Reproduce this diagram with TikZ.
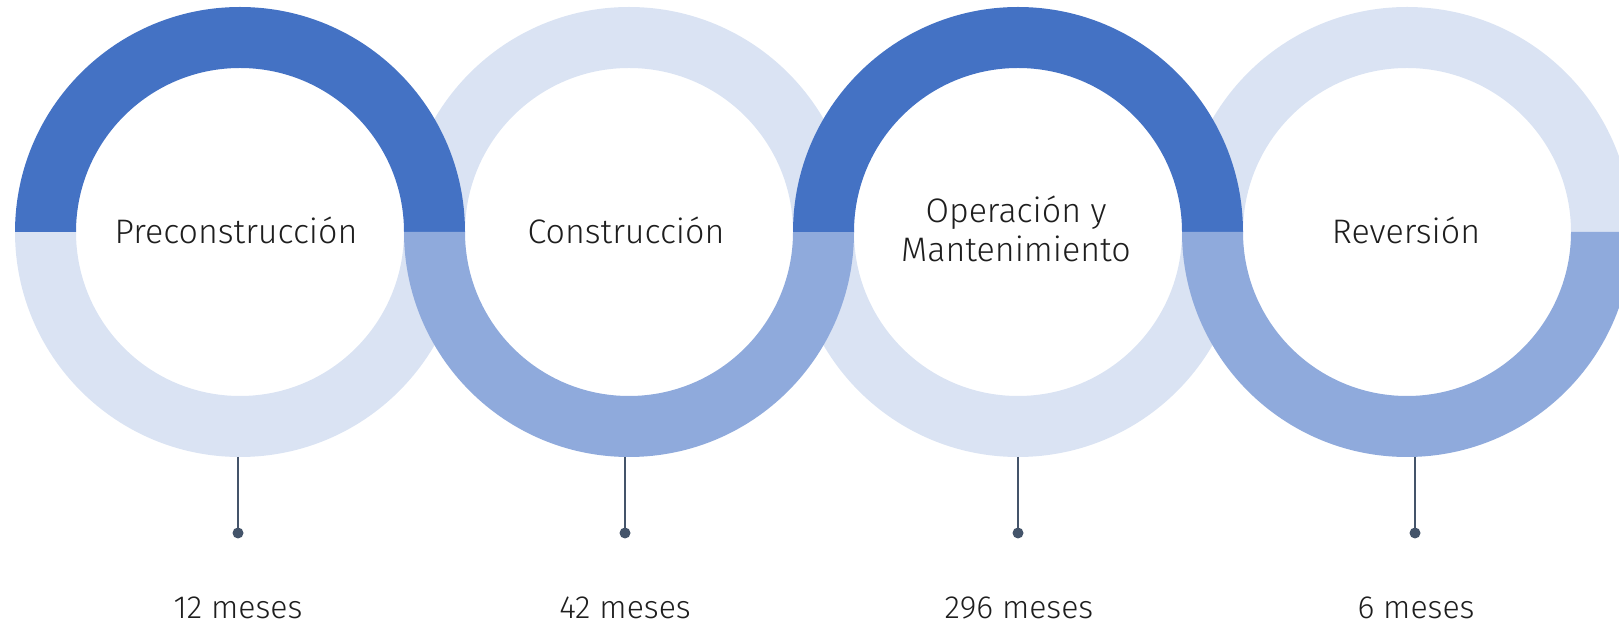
\documentclass[tikz,border=0pt]{standalone}
\usepackage{fontspec}
\setmainfont{Fira Sans}[UprightFont={* Light}]
\definecolor{cdark}{HTML}{4472C4}
\definecolor{cmed}{HTML}{8FAADC}
\definecolor{clight}{HTML}{DAE3F3}
\definecolor{cstem}{HTML}{44546A}
\definecolor{ctext}{HTML}{1E1E1E}
\begin{document}
\begin{tikzpicture}[x=1pt,y=1pt,
  phase/.style={text=ctext,font=\fontsize{34}{39}\selectfont,align=center,inner sep=0pt},
  months/.style={text=ctext,font=\fontsize{32}{36}\selectfont,anchor=base,inner sep=0pt},
  stemline/.style={draw=cstem,line width=2pt},
  stemdot/.style={circle,fill=cstem,minimum size=11pt,inner sep=0pt}]
\useasboundingbox (0,0) rectangle (1619,626);
\clip (0,0) rectangle (1619,626);
% top half ring: #1 = center x, #2 = colour
\newcommand\tophalf[2]{\fill[#2] (#1+225,394) arc[start angle=0,end angle=180,radius=225pt] -- (#1-164,394) arc[start angle=180,end angle=0,radius=164pt] -- cycle;}
\newcommand\bothalf[2]{\fill[#2] (#1-225,394) arc[start angle=180,end angle=360,radius=225pt] -- (#1+164,394) arc[start angle=360,end angle=180,radius=164pt] -- cycle;}
% light halves first
\bothalf{240}{clight}
\tophalf{629}{clight}
\bothalf{1018}{clight}
\tophalf{1407}{clight}
% dark and medium halves on top
\tophalf{240}{cdark}
\bothalf{629}{cmed}
\tophalf{1018}{cdark}
\bothalf{1407}{cmed}
% phase labels
\node[phase] (p1) at (236,396) {Preconstrucción};
\node[phase] (p2) at (626,396) {Construcción};
\node[phase] (p3) at (1016,397) {Operación y\\Mantenimiento};
\node[phase] (p4) at (1406,396) {Reversión};
% stems
\coordinate (s1) at (238,169);
\coordinate (s2) at (625,169);
\coordinate (s3) at (1018,169);
\coordinate (s4) at (1415,169);
\node[stemdot] (d1) at (238,93) {};
\node[stemdot] (d2) at (625,93) {};
\node[stemdot] (d3) at (1018,93) {};
\node[stemdot] (d4) at (1415,93) {};
\draw[stemline] (s1) -- (d1.center);
\draw[stemline] (s2) -- (d2.center);
\draw[stemline] (s3) -- (d3.center);
\draw[stemline] (s4) -- (d4.center);
% durations
\node[months] (m1) at (238,7) {12 meses};
\node[months] (m2) at (625,7) {42 meses};
\node[months] (m3) at (1019,7) {296 meses};
\node[months] (m4) at (1416,7) {6 meses};
\end{tikzpicture}
\end{document}
